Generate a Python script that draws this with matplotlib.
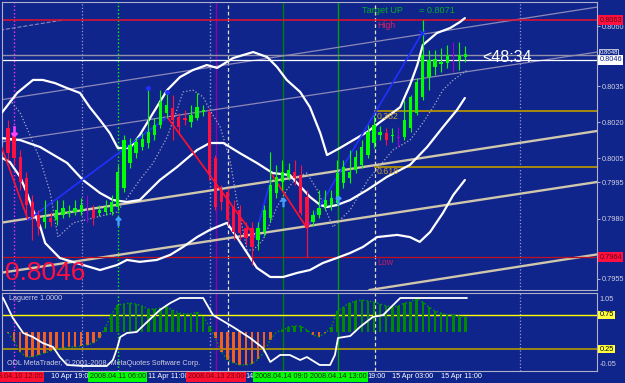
import numpy as np
import matplotlib.pyplot as plt
from matplotlib.transforms import blended_transform_factory

plt.rcParams['font.family'] = ['Liberation Sans', 'DejaVu Sans']

# H1 candles (bar 0 = 2008.04.10 12:00)
opens = [0.80176, 0.80147, 0.80056, 0.79969, 0.79869, 0.79815, 0.79786, 0.79802, 0.79794, 0.79815,
         0.79823, 0.79827, 0.79827, 0.79852, 0.79836, 0.79823, 0.79827, 0.79827, 0.79848, 0.79927,
         0.80031, 0.80072, 0.80097, 0.80114, 0.80147, 0.80189, 0.80239, 0.80259, 0.80222, 0.80218,
         0.80201, 0.80218, 0.80243, 0.80243, 0.80052, 0.79919, 0.79910, 0.79848, 0.79836, 0.79761,
         0.79761, 0.79711, 0.79744, 0.79802, 0.79906, 0.79952, 0.79973, 0.79993, 0.79981, 0.79890,
         0.79786, 0.79815, 0.79848, 0.79856, 0.79865, 0.79948, 0.79969, 0.80002, 0.80023, 0.80064,
         0.80114, 0.80147, 0.80155, 0.80143, 0.80135, 0.80139, 0.80176, 0.80239, 0.80305, 0.80388,
         0.80430, 0.80442, 0.80446, 0.80459, 0.80459, 0.80471]
highs = [0.80209, 0.80176, 0.80085, 0.79993, 0.79898, 0.79836, 0.79877, 0.79827, 0.79877, 0.79877,
         0.79856, 0.79877, 0.79885, 0.79898, 0.79856, 0.79856, 0.79877, 0.79898, 0.80023, 0.80147,
         0.80135, 0.80139, 0.80155, 0.80342, 0.80218, 0.80334, 0.80326, 0.80313, 0.80239, 0.80251,
         0.80272, 0.80322, 0.80272, 0.80259, 0.80064, 0.79939, 0.79927, 0.79877, 0.79856, 0.79786,
         0.79786, 0.79786, 0.79856, 0.80077, 0.80023, 0.80043, 0.80031, 0.80043, 0.80023, 0.79919,
         0.79836, 0.79919, 0.79919, 0.79919, 0.80043, 0.80043, 0.80085, 0.80085, 0.80126, 0.80189,
         0.80230, 0.80185, 0.80176, 0.80176, 0.80180, 0.80293, 0.80313, 0.80384, 0.80625, 0.80500,
         0.80500, 0.80509, 0.80521, 0.80534, 0.80534, 0.80517]
lows = [0.80043, 0.80023, 0.79919, 0.79815, 0.79711, 0.79732, 0.79761, 0.79769, 0.79773, 0.79802,
        0.79806, 0.79815, 0.79815, 0.79786, 0.79773, 0.79811, 0.79815, 0.79815, 0.79836, 0.79910,
        0.80010, 0.80052, 0.80085, 0.80093, 0.80126, 0.80176, 0.80218, 0.80126, 0.80147, 0.80189,
        0.80180, 0.80209, 0.80226, 0.79960, 0.79836, 0.79836, 0.79773, 0.79711, 0.79711, 0.79690,
        0.79607, 0.79669, 0.79728, 0.79786, 0.79885, 0.79919, 0.79960, 0.79939, 0.79815, 0.79640,
        0.79769, 0.79802, 0.79836, 0.79836, 0.79856, 0.79927, 0.79948, 0.79989, 0.80010, 0.80052,
        0.80093, 0.80126, 0.80106, 0.80118, 0.80097, 0.80126, 0.80160, 0.80230, 0.80293, 0.80334,
        0.80396, 0.80409, 0.80426, 0.80409, 0.80417, 0.80450]
closes = [0.80072, 0.80052, 0.79952, 0.79856, 0.79806, 0.79765, 0.79806, 0.79786, 0.79836, 0.79844,
          0.79827, 0.79844, 0.79856, 0.79852, 0.79802, 0.79836, 0.79848, 0.79869, 0.79993, 0.80126,
          0.80106, 0.80118, 0.80131, 0.80160, 0.80189, 0.80284, 0.80272, 0.80209, 0.80180, 0.80209,
          0.80230, 0.80263, 0.80251, 0.79981, 0.79848, 0.79869, 0.79794, 0.79744, 0.79740, 0.79719,
          0.79682, 0.79761, 0.79836, 0.79939, 0.79973, 0.79993, 0.80002, 0.79969, 0.79823, 0.79761,
          0.79815, 0.79844, 0.79877, 0.79885, 0.79989, 0.80014, 0.79993, 0.80056, 0.80097, 0.80160,
          0.80189, 0.80160, 0.80126, 0.80147, 0.80135, 0.80209, 0.80305, 0.80367, 0.80480, 0.80459,
          0.80463, 0.80450, 0.80480, 0.80459, 0.80480, 0.80484]

# bands (bar index, price)
upper_x = [-1.3, 1.5, 4.1, 5.7, 7.7, 9.7, 11.8, 13.4, 15.1, 16.7, 18.0, 20.0, 21.6, 23.8, 26.1, 28.2,
           30.3, 32.6, 34.3, 36.9, 40.2, 42.5, 44.1, 45.7, 47.9, 49.5, 51.2, 52.3, 54.4, 56.6, 58.9,
           61.0, 64.3, 65.9, 67.1, 68.0, 70.3, 72.5, 74.1, 74.9]
upper_y = [0.80230, 0.80322, 0.80376, 0.80376, 0.80363, 0.80342, 0.80322, 0.80263, 0.80209, 0.80155,
           0.80093, 0.80093, 0.80147, 0.80239, 0.80334, 0.80388, 0.80417, 0.80438, 0.80426, 0.80467,
           0.80492, 0.80471, 0.80430, 0.80376, 0.80326, 0.80263, 0.80155, 0.80064, 0.80093, 0.80126,
           0.80160, 0.80201, 0.80263, 0.80355, 0.80438, 0.80521, 0.80571, 0.80592, 0.80617, 0.80633]
mid_x = [-1.3, 2.0, 5.3, 9.7, 12.3, 15.1, 17.2, 19.5, 21.6, 24.9, 27.7, 31.0, 33.1, 35.3, 38.0, 40.8,
         43.4, 46.2, 49.5, 51.2, 52.3, 53.9, 56.1, 58.9, 62.1, 65.9, 68.7, 71.3, 73.6, 74.9]
mid_y = [0.80135, 0.80126, 0.80097, 0.80031, 0.79960, 0.79906, 0.79877, 0.79869, 0.79877, 0.79960,
         0.80014, 0.80085, 0.80114, 0.80114, 0.80072, 0.80031, 0.79989, 0.79981, 0.79890, 0.79856,
         0.79848, 0.79856, 0.79877, 0.79919, 0.79973, 0.80023, 0.80097, 0.80180, 0.80251, 0.80301]
lower_x = [-1.3, 0.3, 2.0, 3.1, 4.1, 5.3, 6.1, 8.5, 12.3, 15.1, 17.9, 19.5, 21.6, 24.4, 26.6, 28.7,
           31.0, 33.1, 35.9, 37.5, 39.2, 40.8, 43.0, 45.1, 47.4, 49.5, 51.6, 53.9, 56.1, 58.2, 60.5,
           63.8, 65.9, 67.5, 69.2, 71.3, 73.0, 74.9]
lower_y = [0.80056, 0.80035, 0.79973, 0.79906, 0.79836, 0.79765, 0.79698, 0.79636, 0.79607, 0.79586,
           0.79607, 0.79628, 0.79620, 0.79628, 0.79649, 0.79682, 0.79723, 0.79753, 0.79782, 0.79723,
           0.79657, 0.79595, 0.79557, 0.79557, 0.79574, 0.79586, 0.79615, 0.79636, 0.79657, 0.79682,
           0.79723, 0.79732, 0.79723, 0.79703, 0.79744, 0.79823, 0.79898, 0.79960]
dots_x = [0.3, 2.0, 3.6, 5.3, 6.9, 8.2, 10.7, 13.9, 17.9, 21.6, 23.8, 26.1, 27.7, 28.7, 30.3, 32.0,
          33.1, 34.8, 36.4, 37.5, 39.2, 40.2, 41.8, 44.1, 45.7, 47.4, 49.0, 50.7, 52.3, 53.3, 56.1,
          59.0, 63.1, 65.9, 68.0, 69.7, 71.3, 73.0, 75.3]
dots_y = [0.80293, 0.80239, 0.80147, 0.80043, 0.79910, 0.79723, 0.79782, 0.79802, 0.79827, 0.79960,
          0.80031, 0.80139, 0.80251, 0.80326, 0.80334, 0.80305, 0.80251, 0.80180, 0.80043, 0.79877,
          0.79669, 0.79669, 0.79711, 0.79848, 0.79919, 0.79973, 0.79989, 0.79919, 0.79823, 0.79765,
          0.79836, 0.79960, 0.80085, 0.80126, 0.80197, 0.80263, 0.80334, 0.80376, 0.80417]

# zigzag turning points
zz_x = [-1.3, 3.3, 26.1, 40.5, 43.3, 49.0, 67.9]
zz_y = [0.80114, 0.79794, 0.80222, 0.79723, 0.79981, 0.79761, 0.80571]

# trend channels: two points each (bar, price)
channels = [((-1.3, 0.79782), (96.6, 0.80164)),
            ((-1.3, 0.79574), (96.6, 0.79952)),
            ((59.3, 0.79503), (96.6, 0.79651))]
faint_channels = [((-1.3, 0.80293), (96.6, 0.80679)),
                  ((-1.3, 0.80118), (96.6, 0.80492))]

high_level = 0.80625
low_level = 0.79640
bid, ask = 0.80459, 0.80478
fib_ratios = [0.382, 0.618]
target_up = 0.8071

# Laguerre indicator
lag_x = [-0.8, 0.8, 2.5, 4.1, 5.7, 7.4, 8.5, 9.7, 12.3, 16.2, 17.2, 17.9, 18.4, 19.5, 21.1, 22.8, 24.9,
         26.6, 28.2, 32.0, 33.6, 36.9, 39.7, 41.8, 43.0, 44.6, 46.2, 47.9, 49.0, 51.1, 52.8, 53.6, 54.1,
         56.1, 57.7, 59.8, 61.5, 64.3, 75.2]
lag_y = [1.0, 0.706, 0.485, 0.426, 0.338, 0.279, 0.132, 0.015, 0.0, 0.0, 0.088, 0.265, 0.426, 0.485,
         0.5, 0.647, 0.824, 0.926, 1.0, 1.0, 0.75, 0.574, 0.412, 0.265, 0.059, 0.162, 0.162, 0.088,
         0.132, 0.015, 0.015, 0.162, 0.412, 0.441, 0.574, 0.721, 0.75, 1.0, 1.0]
hist = [0.485, 0.368, 0.206, 0.132, 0.132, 0.162, 0.191, 0.221, 0.25, 0.265, 0.279, 0.279, 0.294, 0.309,
        0.338, 0.412, 0.574, 0.765, 0.897, 0.912, 0.926, 0.912, 0.882, 0.838, 0.838, 0.853, 0.868, 0.824,
        0.779, 0.765, 0.765, 0.794, 0.735, 0.574, 0.412, 0.206, 0.088, 0.044, 0.015, 0.015, 0.029, 0.103,
        0.206, 0.382, 0.5, 0.529, 0.574, 0.588, 0.588, 0.529, 0.456, 0.426, 0.485, 0.574, 0.809, 0.868,
        0.926, 0.956, 0.971, 0.956, 0.941, 0.912, 0.882, 0.868, 0.882, 0.926, 0.941, 1.0, 0.941, 0.868,
        0.809, 0.779, 0.75, 0.75, 0.735, 0.721]

# event / period separators (bar index)
day_seps = [12.1, 36.1, 60.2, 83.9]
event_lines = [1.0, 18.0, 33.1, 34.1, 45.1, 54.1]
event_boxes = [(1.0, '2008.04.10 12:00', '#ff1030'), (18.0, '2008.04.11 06:00', '#00ff00'),
               (34.1, '2008.04.13 23:00', '#ff1030'), (45.1, '2008.04.14 09:00', '#00ff00'),
               (54.1, '2008.04.14 13:00', '#00ff00')]
# visible parts of the time scale (the rest sits under the event boxes)
time_ticks = [7, 23, 39, 58.9, 63, 71]
time_labels = ['10 Apr 19:00', '11 Apr 11:00', '14', '19:00', '15 Apr 03:00', '15 Apr 11:00']
price_ticks = [0.8060, 0.8035, 0.8020, 0.8005, 0.7995, 0.7980, 0.7955]

BG = '#10258c'
GREEN = '#00ff00'
RED = '#ff1040'

fig = plt.figure(figsize=(6.25, 3.83), dpi=100, facecolor=BG)
ax = fig.add_axes([2/625, 1 - 290/383, 595/625, 288/383], facecolor=BG)
ax2 = fig.add_axes([2/625, 1 - 371/383, 595/625, 78/383], facecolor=BG)

for a in (ax, ax2):
    a.set_xlim(-0.98, 96.56)
    for s in a.spines.values():
        s.set_color('#b0b0c8')
        s.set_linewidth(0.8)
ax.set_ylim(0.79503, 0.80700)
ax2.set_ylim(-0.0735, 1.0735)

# separators
for k, d in enumerate(day_seps):
    st = ':' if k in (0, 3) else (0, (3, 2))
    col = '#9a9ad0' if k in (0, 3) else '#e0e0c8'
    for a in (ax, ax2):
        a.axvline(d, color=col, ls=st, lw=0.9, zorder=1)
ev_style = [('#ff30ff', ':'), (GREEN, ':'), ('#9a9ad0', ':'), ('#9000b0', '-'), ('#008000', '-'), ('#00a000', '-')]
for d, (col, st) in zip(event_lines, ev_style):
    for a in (ax, ax2):
        a.axvline(d, color=col, ls=st, lw=1.0, zorder=1)

# channels
for p1, p2 in faint_channels:
    ax.axline(p1, p2, color='#8c88b8', lw=0.9, zorder=1)
for p1, p2 in channels:
    ax.axline(p1, p2, color='#cfc6ac', lw=1.7, zorder=1)
ax.plot([-1.3, 9.0], [0.80583, 0.80625], color='#8c88b8', lw=0.8, ls='--', zorder=1)

# horizontal levels
ax.axhline(high_level, color='#e8102a', lw=1.1, zorder=2)
ax.axhline(low_level, color='#c01020', lw=0.9, zorder=2)
ax.axhline(ask, color='#9090a8', lw=1.0, zorder=2)
ax.axhline(bid, color='white', lw=0.9, zorder=2)
fib_start = 60.2
for r in fib_ratios:
    lvl = high_level - r * (high_level - low_level)
    ax.plot([fib_start, 96.56], [lvl, lvl], color='#a88a10', lw=1.4, zorder=2)
    ax.text(fib_start + 0.2, lvl - 0.00004, '%.3f' % r, color='#c8a030', fontsize=6.3, va='top', zorder=6)
ax.text(fib_start + 0.3, high_level - 0.00005, 'High', color='#e0205a', fontsize=6.3, va='top')
ax.text(fib_start + 0.3, low_level - 0.00005, 'Low', color='#c02060', fontsize=6.3, va='top')
ax.text(58.0, 0.80666, 'Target UP', color='#00b020', fontsize=6.6, va='center')
ax.text(67.4, 0.80666, '= %.4f' % target_up, color='#00b020', fontsize=6.6, va='center')

# bands
ax.plot(dots_x, dots_y, color='#a8a8c8', ls=':', lw=0.9, zorder=3)
for bx, by in ((upper_x, upper_y), (mid_x, mid_y), (lower_x, lower_y)):
    ax.plot(bx, by, color='white', lw=1.6, zorder=4, solid_capstyle='round')

# zigzag
for k in range(len(zz_x) - 1):
    col = '#2030ff' if zz_y[k + 1] > zz_y[k] else '#ff1030'
    ax.plot(zz_x[k:k + 2], zz_y[k:k + 2], color=col, lw=1.2, zorder=5)

# candles
idx = np.arange(len(opens))
o, h, l, c = map(np.array, (opens, highs, lows, closes))
cols = np.where(c > o, GREEN, np.where(c < o, RED, '#a000d0'))
ax.vlines(idx, l, h, colors=cols, lw=0.8, zorder=6)
ax.bar(idx, np.maximum(np.abs(c - o), 0.00002), bottom=np.minimum(o, c), width=0.55,
       color=cols, zorder=6, linewidth=0)

# markers
ax.plot([1.0], [0.80165], marker='$\u2193$', color='#ff40ff', ms=7, zorder=7)
ax.plot([18.0, 45.1, 54.1], [0.79790, 0.79869, 0.79877], marker='$\u2191$', ls='none',
        color='#40a0ff', ms=6, zorder=7)
ax.plot([23, 26], [0.80342, 0.80326], marker='o', ls='none', color='#2030ff', ms=2.5, zorder=7)
ax.plot([67.9], [0.80571], marker='x', color='#2030ff', ms=4, zorder=7)

ax.text(77.7, 0.80469, '<48:34', color='white', fontsize=11.5, va='center', zorder=8)
ax.text(0.005, 0.06, '0.8046', color=RED, fontsize=19, transform=ax.transAxes, va='center', zorder=8)

# right price scale
ax.yaxis.tick_right()
ax.set_yticks(price_ticks, labels=['%.4f' % t for t in price_ticks])
ax.tick_params(axis='y', colors='#d0d0e0', labelsize=5.3, length=2, pad=1.5, width=0.6)
ax.set_xticks([])
kw = dict(transform=blended_transform_factory(ax.transAxes, ax.transData), fontsize=5.3,
          va='center', ha='left', clip_on=False, zorder=9)
ax.text(1.004, high_level, '%.4f' % high_level, color='#600010',
        bbox=dict(boxstyle='square,pad=0.15', fc='#ff1040', ec='none'), **kw)
ax.text(1.004, low_level, '%.4f' % low_level, color='#600010',
        bbox=dict(boxstyle='square,pad=0.15', fc='#ff1040', ec='none'), **kw)
ax.text(1.004, bid, '%.4f' % bid, color='#10258c',
        bbox=dict(boxstyle='square,pad=0.15', fc='white', ec='none'), **kw)
ax.text(1.004, 0.80492, '%.4f' % ask, color='white',
        bbox=dict(boxstyle='square,pad=0.1', fc=BG, ec='white', lw=0.5), **dict(kw, fontsize=4.3))

# Laguerre panel
ax2.axhline(0.75, color='#ffff00', lw=1.0, zorder=1)
ax2.axhline(0.25, color='#b09a00', lw=1.2, zorder=1)
hv = np.array(hist)
hcol = np.where(hv >= 0.5, '#008a00', '#f06020')
ax2.bar(np.arange(len(hv)), hv - 0.5, bottom=0.5, width=0.42, color=hcol, zorder=2, linewidth=0)
ax2.plot(np.arange(len(hv)), hv, color='#00a000', ls=':', lw=1.0, zorder=3)
ax2.plot(lag_x, lag_y, color='white', lw=1.3, zorder=4)
ax2.text(0.012, 0.93, 'Laguerre 1.0000', color='#d0d0e0', fontsize=5.2, transform=ax2.transAxes, va='center')
ax2.text(0.008, 0.1, 'ODL MetaTrader, \u00a9 2001-2008, MetaQuotes Software Corp.', color='#d0d0e0',
         fontsize=5.2, transform=ax2.transAxes, va='center', zorder=5)
ax2.set_xticks([])
ax2.set_yticks([])
kw2 = dict(transform=blended_transform_factory(ax2.transAxes, ax2.transData), fontsize=5.3,
           va='center', ha='left', clip_on=False)
ax2.text(1.004, 0.985, '1.05', color='#d0d0e0', **kw2)
ax2.text(1.004, 0.015, '-0.05', color='#d0d0e0', **kw2)
for v in (0.75, 0.25):
    ax2.text(1.004, v, '%.2f' % v, color='black',
             bbox=dict(boxstyle='square,pad=0.12', fc='#ffff40', ec='none'), **kw2)

# time axis
tt = blended_transform_factory(ax2.transData, ax2.transAxes)
for t, s in zip(time_ticks, time_labels):
    ax2.text(t, -0.075, s, color='white', fontsize=5.2, transform=tt, ha='left', va='center',
             clip_on=False, zorder=1)
for t, s, col in event_boxes:
    ax2.text(t, -0.075, s, color='#202020' if col == '#00ff00' else '#700010', fontsize=5.2, transform=tt,
             ha='center', va='center', clip_on=False, zorder=10,
             bbox=dict(boxstyle='square,pad=0.2', fc=col, ec='none'))

fig.savefig('out.png', dpi=100, facecolor=BG)
